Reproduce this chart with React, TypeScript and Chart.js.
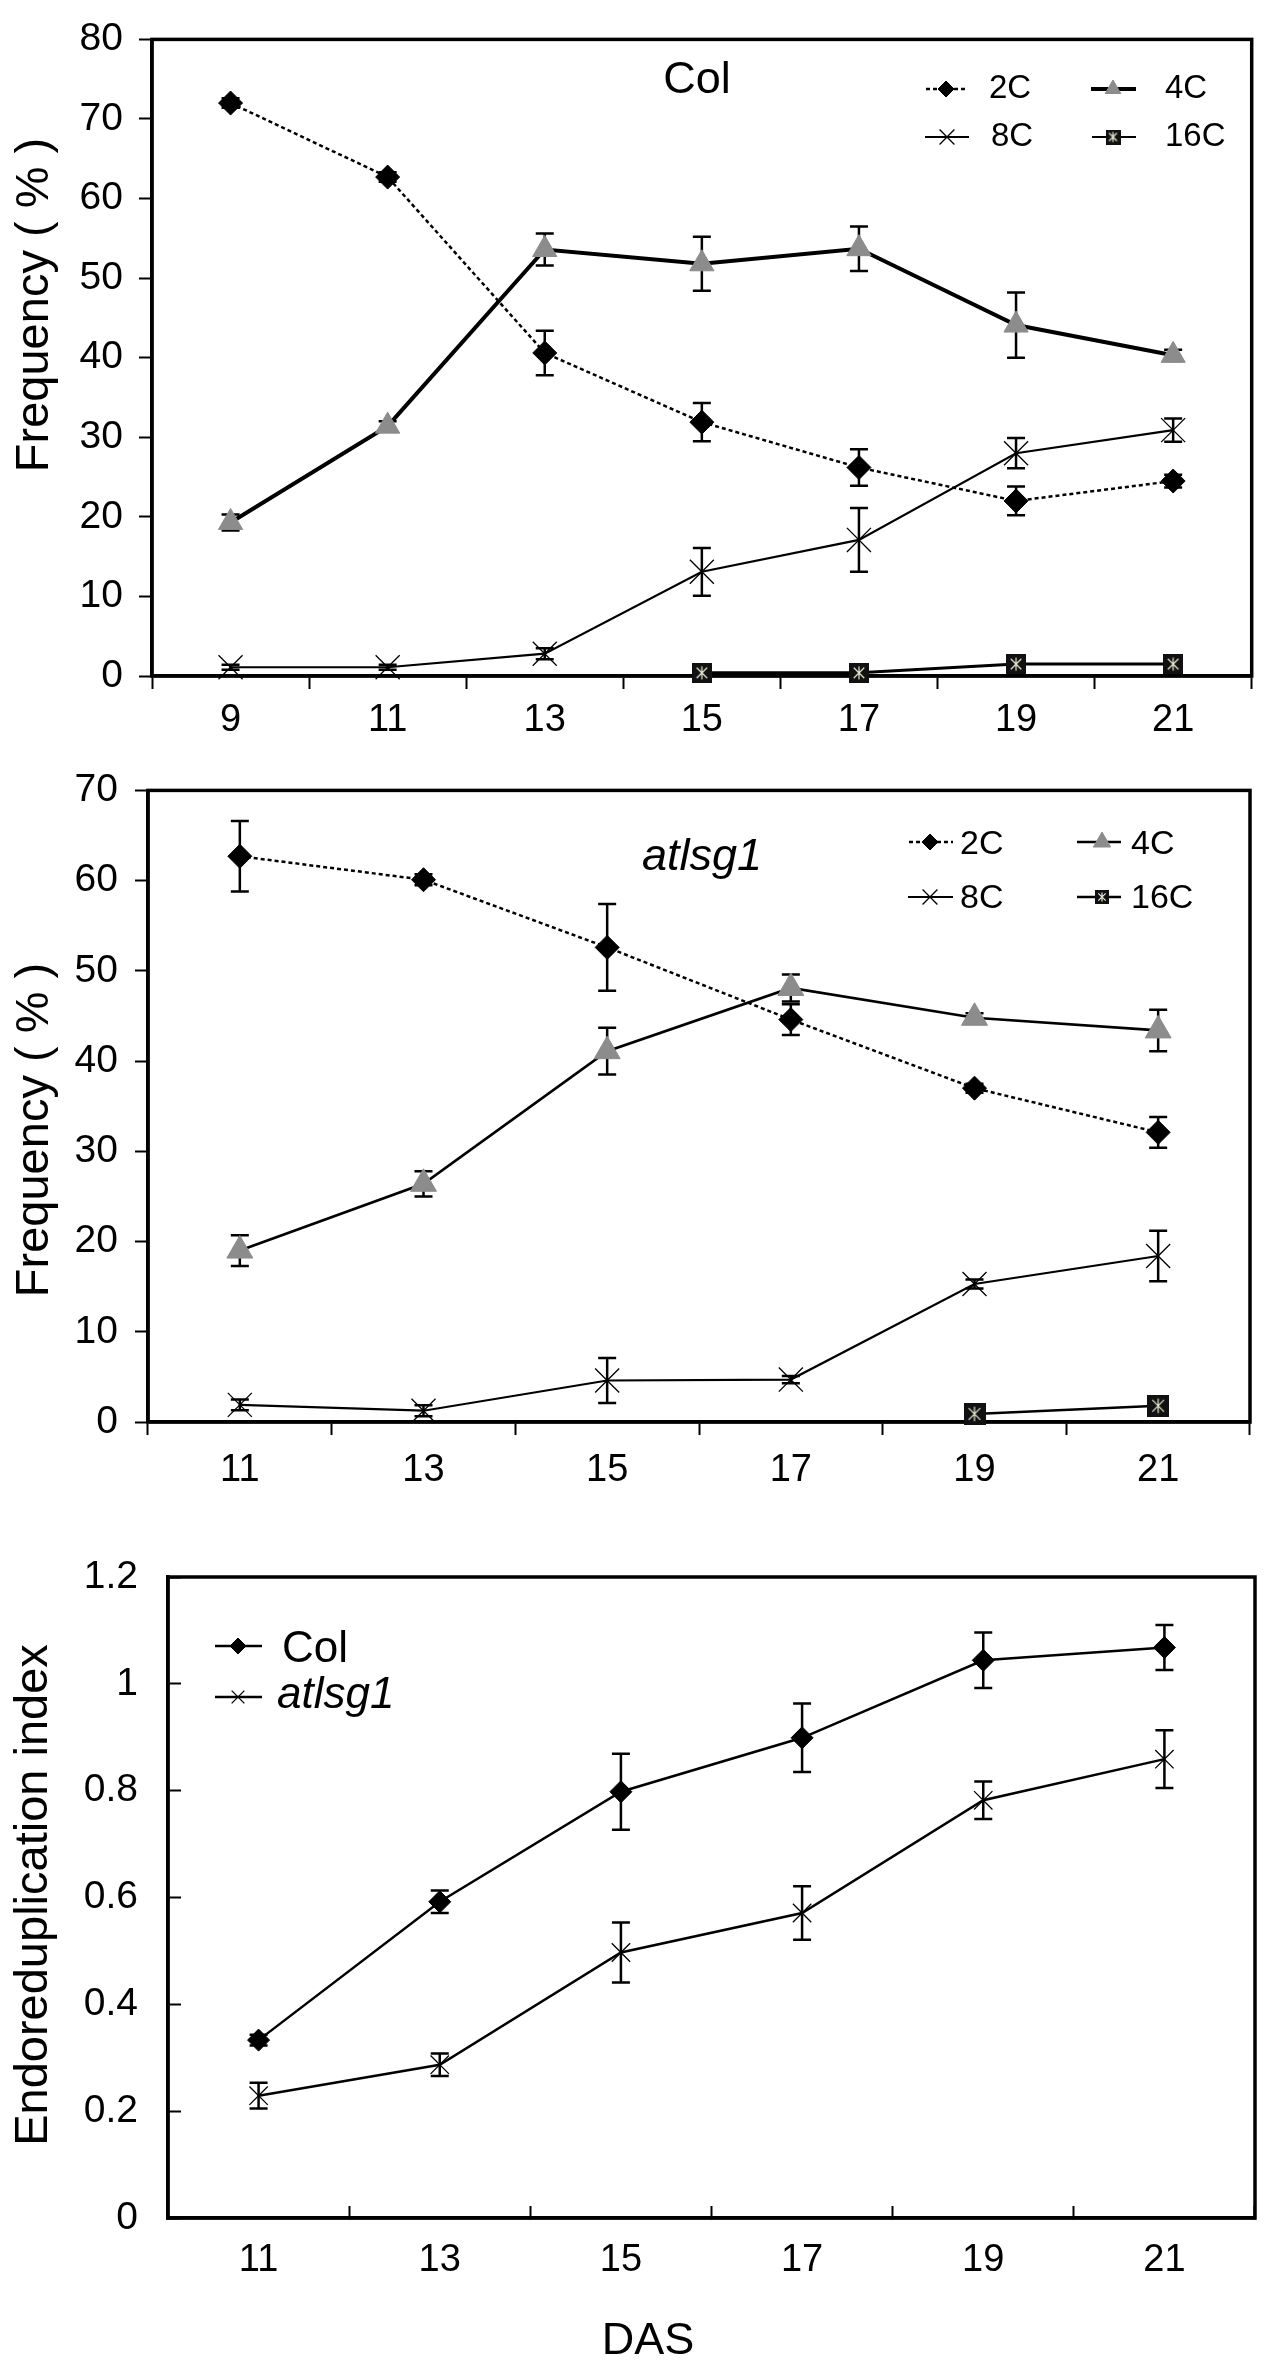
import React, { useEffect, useRef } from 'react';
import { Chart, registerables } from 'chart.js';
import { drawPoint } from 'chart.js/helpers';

Chart.register(...registerables);

const FONT = '"Liberation Sans", Arial, Helvetica, sans-serif';
Chart.defaults.font.family = FONT;
Chart.defaults.color = '#000';

// ---------- Panel 1: Col ----------
const colDays = ['9', '11', '13', '15', '17', '19', '21'];
const col2C = [72.0, 62.7, 40.6, 31.9, 26.2, 22.0, 24.5];
const col2CErr = [0.6, 0.6, 2.8, 2.4, 2.3, 1.8, 0.8];
const col4C = [19.3, 31.4, 53.6, 51.8, 53.7, 44.1, 40.3];
const col4CErr = [1.0, 0.6, 2.0, 3.4, 2.8, 4.1, 0.7];
const col8C = [1.1, 1.1, 2.8, 13.1, 17.1, 28.0, 30.9];
const col8CErr = [0.3, 0.3, 0.7, 3.0, 4.0, 1.9, 1.45];
const col16C = [null, null, null, 0.4, 0.4, 1.5, 1.5];
const col16CErr = [0, 0, 0, 0.2, 0.2, 0.3, 0.3];

// ---------- Panel 2: atlsg1 ----------
const atlDays = ['11', '13', '15', '17', '19', '21'];
const atl2C = [62.7, 60.1, 52.6, 44.6, 37.0, 32.1];
const atl2CErr = [3.9, 0.6, 4.8, 1.7, 0.5, 1.7];
const atl4C = [19.0, 26.4, 41.1, 48.1, 44.8, 43.4];
const atl4CErr = [1.7, 1.4, 2.6, 1.5, 0.5, 2.3];
const atl8C = [1.9, 1.25, 4.6, 4.7, 15.3, 18.4];
const atl8CErr = [0.6, 0.6, 2.5, 0.4, 0.5, 2.8];
const atl16C = [null, null, null, null, 0.9, 1.8];
const atl16CErr = [0, 0, 0, 0, 0, 0];

// ---------- Panel 3: Endoreduplication index ----------
const endoDays = ['11', '13', '15', '17', '19', '21'];
const endoCol = [0.333, 0.592, 0.798, 0.899, 1.044, 1.068];
const endoColErr = [0.01, 0.021, 0.071, 0.064, 0.052, 0.042];
const endoAtl = [0.229, 0.287, 0.497, 0.571, 0.782, 0.859];
const endoAtlErr = [0.024, 0.021, 0.056, 0.05, 0.035, 0.054];

const W = 1270;
const GRAY = '#8c8c8c';

function makeMarker16(size: number): HTMLCanvasElement {
  const c = document.createElement('canvas');
  c.width = size;
  c.height = size;
  const g = c.getContext('2d')!;
  g.fillStyle = '#111';
  g.fillRect(0, 0, size, size);
  g.strokeStyle = '#ecebd0';
  g.lineWidth = 1.2;
  const m = size / 2;
  const r = size * 0.33;
  const d = r * 0.8;
  g.beginPath();
  g.moveTo(m, m - r);
  g.lineTo(m, m + r);
  g.moveTo(m - d, m - d);
  g.lineTo(m + d, m + d);
  g.moveTo(m + d, m - d);
  g.lineTo(m - d, m + d);
  g.stroke();
  return c;
}

type LegendItem = {
  ds: number; x1: number; x2: number; mx: number; y: number;
  tx: number; ty: number; r: number; italic?: boolean; img?: HTMLCanvasElement; lw?: number;
};
type TextSpec = { text: string; x: number; y: number; size: number; italic?: boolean };
type Decor = {
  errors: (number[] | null)[];
  cap: number; errWidth: number; frameWidth: number;
  legend: LegendItem[]; legendSize: number;
  yTitle: TextSpec; xTitle?: TextSpec; inner?: TextSpec;
};

function makeDecor(d: Decor) {
  return {
    id: 'decor',
    beforeDatasetsDraw(chart: any) {
      const { ctx, chartArea: a } = chart;
      const xs = chart.scales.x;
      const ys = chart.scales.y;
      ctx.save();
      ctx.strokeStyle = '#000';
      ctx.lineWidth = d.frameWidth;
      ctx.strokeRect(a.left, a.top, a.right - a.left, a.bottom - a.top);
      ctx.lineWidth = d.errWidth;
      d.errors.forEach((errs, di) => {
        if (!errs) return;
        const data = chart.data.datasets[di].data;
        data.forEach((v: number | null, i: number) => {
          if (v == null || !errs[i]) return;
          const x = xs.getPixelForValue(i);
          const y1 = ys.getPixelForValue(v - errs[i]);
          const y2 = ys.getPixelForValue(v + errs[i]);
          ctx.beginPath();
          ctx.moveTo(x, y1);
          ctx.lineTo(x, y2);
          ctx.moveTo(x - d.cap, y1);
          ctx.lineTo(x + d.cap, y1);
          ctx.moveTo(x - d.cap, y2);
          ctx.lineTo(x + d.cap, y2);
          ctx.stroke();
        });
      });
      ctx.restore();
    },
    afterDraw(chart: any) {
      const { ctx } = chart;
      ctx.save();
      // legend
      for (const it of d.legend) {
        const ds: any = chart.data.datasets[it.ds];
        ctx.save();
        ctx.strokeStyle = ds.borderColor;
        ctx.lineWidth = it.lw ?? ds.borderWidth;
        ctx.setLineDash(ds.borderDash || []);
        ctx.beginPath();
        ctx.moveTo(it.x1, it.y);
        ctx.lineTo(it.x2, it.y);
        ctx.stroke();
        ctx.setLineDash([]);
        ctx.fillStyle = ds.pointBackgroundColor;
        ctx.strokeStyle = ds.pointBorderColor;
        ctx.lineWidth = ds.pointBorderWidth;
        drawPoint(ctx, {
          pointStyle: it.img || ds.pointStyle,
          rotation: 0,
          radius: it.r,
          borderWidth: ds.pointBorderWidth,
        } as any, it.mx, it.y);
        ctx.restore();
        ctx.fillStyle = '#000';
        ctx.font = `${it.italic ? 'italic ' : ''}${d.legendSize}px ${FONT}`;
        ctx.textAlign = 'left';
        ctx.textBaseline = 'alphabetic';
        ctx.fillText(ds.label, it.tx, it.ty);
      }
      ctx.fillStyle = '#000';
      // inner title
      if (d.inner) {
        ctx.font = `${d.inner.italic ? 'italic ' : ''}${d.inner.size}px ${FONT}`;
        ctx.textAlign = 'center';
        ctx.textBaseline = 'alphabetic';
        ctx.fillText(d.inner.text, d.inner.x, d.inner.y);
      }
      // y title (rotated)
      ctx.save();
      ctx.font = `${d.yTitle.size}px ${FONT}`;
      ctx.translate(d.yTitle.x, d.yTitle.y);
      ctx.rotate(-Math.PI / 2);
      ctx.textAlign = 'center';
      ctx.textBaseline = 'alphabetic';
      ctx.fillText(d.yTitle.text, 0, 0);
      ctx.restore();
      // x title
      if (d.xTitle) {
        ctx.font = `${d.xTitle.size}px ${FONT}`;
        ctx.textAlign = 'center';
        ctx.textBaseline = 'alphabetic';
        ctx.fillText(d.xTitle.text, d.xTitle.x, d.xTitle.y);
      }
      ctx.restore();
    },
  };
}

type Area = { left: number; top: number; right: number; bottom: number };
type AxisSpec = {
  labels: string[]; yMax: number; yStep: number;
  yTickLen: number; yTickPad: number; xTickLen: number; xTickPad: number;
};

function buildConfig(height: number, area: Area, ax: AxisSpec, datasets: any[], decor: Decor): any {
  return {
    type: 'line',
    data: { labels: ax.labels, datasets },
    options: {
      responsive: false,
      animation: false,
      events: [],
      layout: { padding: { left: 0, top: area.top, right: W - area.right, bottom: 0 } },
      plugins: { legend: { display: false }, tooltip: { enabled: false } },
      scales: {
        x: {
          type: 'category',
          offset: true,
          grid: {
            offset: true, drawOnChartArea: false, drawTicks: true,
            tickLength: ax.xTickLen, tickWidth: 2, tickColor: '#000',
          },
          border: { display: true, color: '#000', width: 3.5 },
          ticks: {
            color: '#000', font: { size: 38, family: FONT }, padding: ax.xTickPad,
            maxRotation: 0, autoSkip: false,
          },
          afterFit: (s: any) => { s.height = height - area.bottom; },
        },
        y: {
          type: 'linear',
          min: 0,
          max: ax.yMax,
          ticks: {
            stepSize: ax.yStep, color: '#000', font: { size: 39, family: FONT }, padding: ax.yTickPad,
            callback: (v: number) => String(Number(Number(v).toFixed(3))),
          },
          grid: {
            drawOnChartArea: false, drawTicks: true,
            tickLength: ax.yTickLen, tickWidth: 2, tickColor: '#000',
          },
          border: { display: true, color: '#000', width: 3.5 },
          afterFit: (s: any) => { s.width = area.left; },
        },
      },
    },
    plugins: [makeDecor(decor)],
  };
}

function lineDs(label: string, data: (number | null)[], extra: any) {
  return {
    label,
    data,
    borderColor: '#000',
    backgroundColor: '#000',
    tension: 0,
    clip: false,
    fill: false,
    borderCapStyle: 'butt',
    borderJoinStyle: 'miter',
    ...extra,
  };
}

function freqSets(
  d2: (number | null)[], d4: (number | null)[], d8: (number | null)[], d16: (number | null)[],
  m16: HTMLCanvasElement, w4: number, w16: number, tri: number,
) {
  return [
    lineDs('2C', d2, {
      borderWidth: 2.5, borderDash: [4, 3], pointStyle: 'rectRot', pointRadius: 12,
      pointBackgroundColor: '#000', pointBorderColor: '#000', pointBorderWidth: 1,
    }),
    lineDs('4C', d4, {
      borderWidth: w4, pointStyle: 'triangle', pointRadius: tri,
      pointBackgroundColor: GRAY, pointBorderColor: GRAY, pointBorderWidth: 1,
    }),
    lineDs('8C', d8, {
      borderWidth: 2.2, pointStyle: 'crossRot', pointRadius: 17,
      pointBackgroundColor: '#000', pointBorderColor: '#000', pointBorderWidth: 1.3,
    }),
    lineDs('16C', d16, {
      borderWidth: w16, pointStyle: m16, pointRadius: 10,
      pointBackgroundColor: '#000', pointBorderColor: '#000', pointBorderWidth: 1,
    }),
  ];
}

function PanelCanvas({ top, height, make }: { top: number; height: number; make: () => any }) {
  const ref = useRef<HTMLCanvasElement>(null);
  useEffect(() => {
    const chart = new Chart(ref.current!, make());
    return () => chart.destroy();
  }, []);
  return (
    <canvas
      ref={ref}
      width={W}
      height={height}
      style={{ position: 'absolute', left: 0, top, width: W, height, display: 'block' }}
    />
  );
}

function makeTop() {
  const H = 750;
  const m16 = makeMarker16(20);
  const m16s = makeMarker16(15);
  const sets = freqSets(col2C, col4C, col8C, col16C, m16, 4, 3, 14);
  return buildConfig(
    H,
    { left: 152, top: 32, right: 1254, bottom: 676 },
    { labels: colDays, yMax: 80, yStep: 10, yTickLen: 13, yTickPad: 16, xTickLen: 13, xTickPad: 9 },
    sets,
    {
      errors: [col2CErr, col4CErr, col8CErr, col16CErr],
      cap: 9, errWidth: 2.5, frameWidth: 3.5,
      legendSize: 33,
      legend: [
        { ds: 0, x1: 926, x2: 965, mx: 946, y: 89, tx: 989, ty: 98, r: 8 },
        { ds: 1, x1: 1091, x2: 1136, mx: 1113, y: 89, tx: 1165, ty: 98, r: 9 },
        { ds: 2, x1: 925, x2: 969, mx: 947, y: 137, tx: 991, ty: 146, r: 10.5 },
        { ds: 3, x1: 1092, x2: 1136, mx: 1113, y: 137, tx: 1165, ty: 146, r: 8, img: m16s, lw: 2 },
      ],
      yTitle: { text: 'Frequency ( % )', x: 48, y: 305, size: 47 },
      inner: { text: 'Col', x: 697, y: 93, size: 45 },
    },
  );
}

function makeMiddle() {
  const H = 750;
  const m16 = makeMarker16(22);
  const m16s = makeMarker16(14);
  const sets = freqSets(atl2C, atl4C, atl8C, atl16C, m16, 2.7, 2.5, 15);
  return buildConfig(
    H,
    { left: 148, top: 29, right: 1250, bottom: 672 },
    { labels: atlDays, yMax: 70, yStep: 10, yTickLen: 13, yTickPad: 17, xTickLen: 13, xTickPad: 13 },
    sets,
    {
      errors: [atl2CErr, atl4CErr, atl8CErr, atl16CErr],
      cap: 9, errWidth: 2.5, frameWidth: 3.5,
      legendSize: 34,
      legend: [
        { ds: 0, x1: 909, x2: 953, mx: 930, y: 92, tx: 960, ty: 104, r: 8 },
        { ds: 1, x1: 1077, x2: 1121, mx: 1102, y: 92, tx: 1131, ty: 104, r: 10 },
        { ds: 2, x1: 908, x2: 953, mx: 930, y: 147, tx: 960, ty: 158, r: 10.5 },
        { ds: 3, x1: 1077, x2: 1121, mx: 1102, y: 147, tx: 1131, ty: 158, r: 7, img: m16s },
      ],
      yTitle: { text: 'Frequency ( % )', x: 48, y: 380, size: 47 },
      inner: { text: 'atlsg1', x: 702, y: 120, size: 45, italic: true },
    },
  );
}

function makeBottom() {
  const H = 867;
  const sets = [
    lineDs('Col', endoCol, {
      borderWidth: 2.5, pointStyle: 'rectRot', pointRadius: 11,
      pointBackgroundColor: '#000', pointBorderColor: '#000', pointBorderWidth: 1,
    }),
    lineDs('atlsg1', endoAtl, {
      borderWidth: 2.5, pointStyle: 'crossRot', pointRadius: 13,
      pointBackgroundColor: '#000', pointBorderColor: '#000', pointBorderWidth: 1.3,
    }),
  ];
  return buildConfig(
    H,
    { left: 168, top: 77, right: 1255, bottom: 718 },
    { labels: endoDays, yMax: 1.2, yStep: 0.2, yTickLen: -13, yTickPad: 43, xTickLen: -12, xTickPad: 32 },
    sets,
    {
      errors: [endoColErr, endoAtlErr],
      cap: 9, errWidth: 2.5, frameWidth: 3.5,
      legendSize: 44,
      legend: [
        { ds: 0, x1: 215, x2: 262, mx: 238, y: 146, tx: 282, ty: 162, r: 8 },
        { ds: 1, x1: 215, x2: 262, mx: 238, y: 197, tx: 277, ty: 208, r: 9, italic: true },
      ],
      yTitle: { text: 'Endoreduplication index', x: 47, y: 395, size: 47 },
      xTitle: { text: 'DAS', x: 648, y: 854, size: 45 },
    },
  );
}

export default function App() {
  return (
    <div style={{ position: 'absolute', left: 0, top: 0, width: W, height: 2367, background: '#fff', overflow: 'hidden' }}>
      <PanelCanvas top={0} height={750} make={makeTop} />
      <PanelCanvas top={750} height={750} make={makeMiddle} />
      <PanelCanvas top={1500} height={867} make={makeBottom} />
    </div>
  );
}
